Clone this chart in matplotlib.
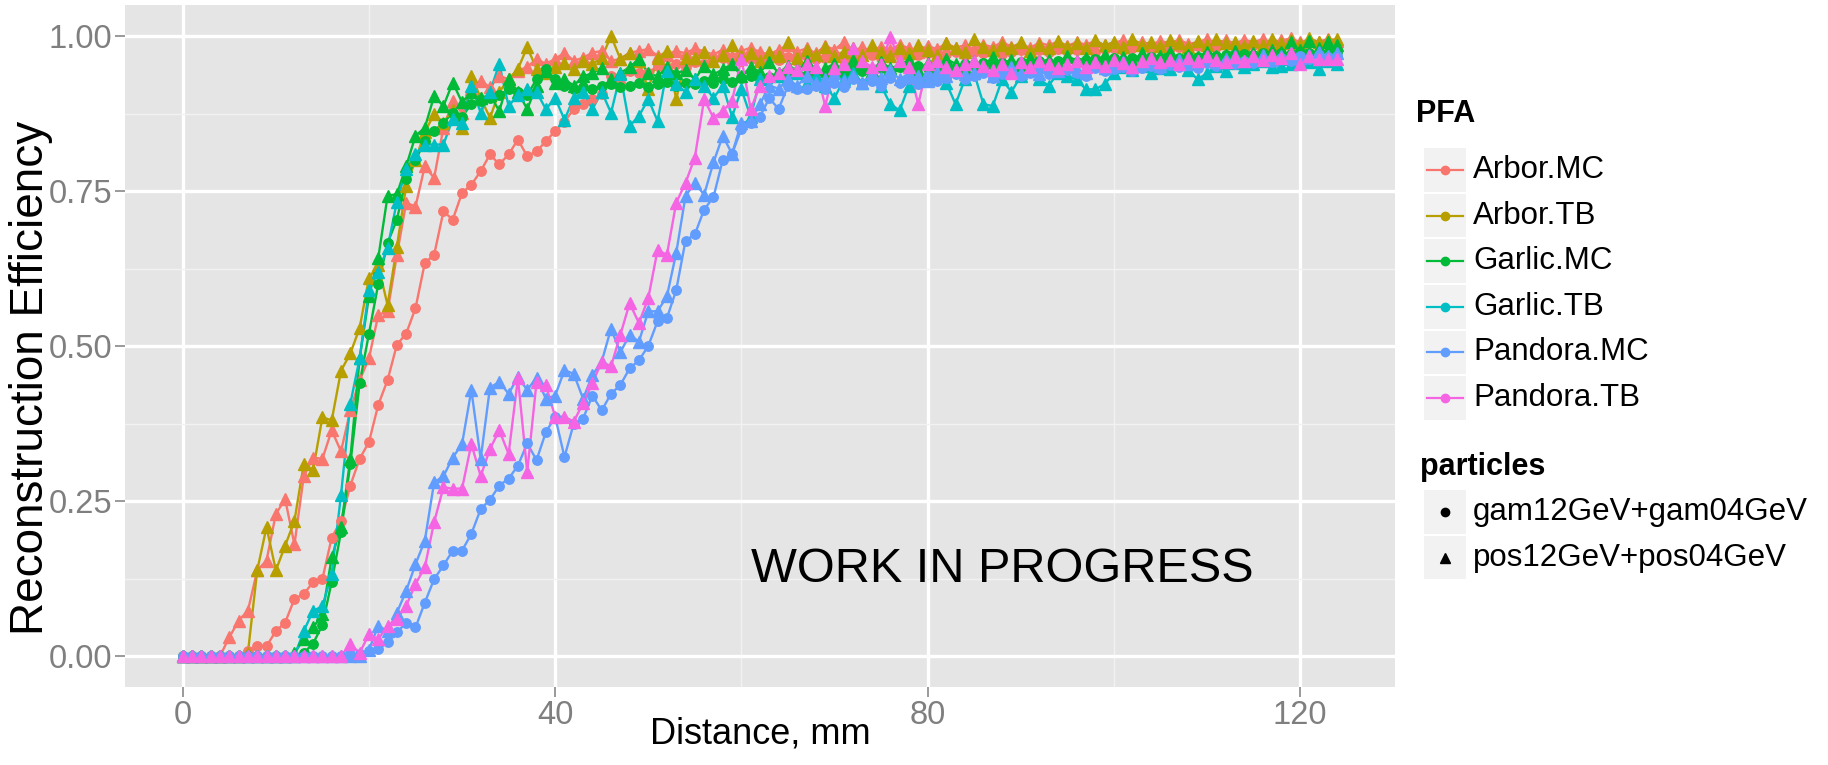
import numpy as np
import matplotlib
matplotlib.use("Agg")
import matplotlib.pyplot as plt
from matplotlib.patches import Rectangle
from matplotlib.ticker import FormatStrFormatter

plt.rcParams["font.family"] = ["Liberation Sans", "DejaVu Sans"]

# distance between the two showers, mm
distance = np.arange(0, 125)

arbor_mc_gam = [
    0, 0, 0, 0, 0, 0, 0, 0.008, 0.016, 0.016,
    0.04, 0.054, 0.092, 0.10, 0.119, 0.124, 0.191, 0.218, 0.275, 0.318,
    0.345, 0.405, 0.445, 0.502, 0.52, 0.561, 0.634, 0.647, 0.717, 0.704,
    0.747, 0.76, 0.782, 0.809, 0.793, 0.809, 0.833, 0.806, 0.814, 0.83,
    0.847, 0.862, 0.882, 0.89, 0.898, 0.906, 0.935, 0.925, 0.944, 0.941,
    0.94, 0.952, 0.948, 0.955, 0.95, 0.958, 0.955, 0.962, 0.965, 0.958,
    0.96, 0.963, 0.957, 0.965, 0.962, 0.966, 0.96, 0.968, 0.963, 0.965,
    0.97, 0.962, 0.968, 0.966, 0.97, 0.965, 0.972, 0.968, 0.966, 0.97,
    0.973, 0.968, 0.971, 0.975, 0.97, 0.974, 0.972, 0.976, 0.971, 0.975,
    0.978, 0.973, 0.977, 0.975, 0.979, 0.976, 0.978, 0.98, 0.975, 0.979,
    0.981, 0.977, 0.98, 0.982, 0.978, 0.982, 0.98, 0.983, 0.979, 0.984,
    0.981, 0.983, 0.985, 0.982, 0.984, 0.986, 0.983, 0.985, 0.987, 0.984,
    0.986, 0.988, 0.985, 0.987, 0.986,
]
arbor_mc_pos = [
    0, 0, 0, 0, 0, 0.03, 0.057, 0.073, 0.138, 0.154,
    0.229, 0.253, 0.18, 0.29, 0.32, 0.318, 0.364, 0.33, 0.396, 0.445,
    0.48, 0.55, 0.556, 0.647, 0.731, 0.725, 0.79, 0.771, 0.852, 0.895,
    0.876, 0.914, 0.928, 0.917, 0.936, 0.93, 0.944, 0.95, 0.963, 0.955,
    0.963, 0.973, 0.96, 0.965, 0.973, 0.976, 0.96, 0.963, 0.973, 0.976,
    0.979, 0.968, 0.97, 0.976, 0.972, 0.98, 0.975, 0.97, 0.978, 0.968,
    0.976, 0.981, 0.974, 0.97, 0.978, 0.985, 0.975, 0.98, 0.972, 0.984,
    0.978, 0.99, 0.976, 0.982, 0.975, 0.983, 0.978, 0.986, 0.98, 0.975,
    0.984, 0.979, 0.988, 0.981, 0.985, 0.979, 0.986, 0.982, 0.99, 0.983,
    0.987, 0.981, 0.989, 0.985, 0.991, 0.984, 0.99, 0.986, 0.992, 0.985,
    0.989, 0.993, 0.987, 0.991, 0.986, 0.992, 0.988, 0.994, 0.987, 0.99,
    0.995, 0.989, 0.993, 0.988, 0.994, 0.99, 0.995, 0.989, 0.993, 0.996,
    0.99, 0.994, 0.991, 0.995, 0.992,
]
arbor_tb_pos = [
    0, 0, 0, 0, 0, 0, 0, 0.005, 0.138, 0.208,
    0.138, 0.178, 0.218, 0.31, 0.30, 0.385, 0.38, 0.46, 0.488, 0.529,
    0.61, 0.63, 0.566, 0.66, 0.758, 0.80, 0.845, 0.874, 0.86, 0.88,
    0.852, 0.936, 0.90, 0.868, 0.91, 0.93, 0.947, 0.982, 0.947, 0.94,
    0.95, 0.957, 0.947, 0.96, 0.955, 0.965, 1.0, 0.963, 0.973, 0.96,
    0.914, 0.965, 0.976, 0.898, 0.965, 0.965, 0.975, 0.96, 0.97, 0.985,
    0.968, 0.972, 0.96, 0.975, 0.968, 0.99, 0.965, 0.978, 0.97, 0.983,
    0.968, 0.975, 0.98, 0.97, 0.985, 0.975, 0.968, 0.98, 0.972, 0.985,
    0.978, 0.97, 0.988, 0.98, 0.975, 0.995, 0.982, 0.978, 0.986, 0.98,
    0.99, 0.976, 0.985, 0.98, 0.992, 0.983, 0.988, 0.98, 0.993, 0.985,
    0.99, 0.982, 0.995, 0.986, 0.99, 0.984, 0.993, 0.988, 0.982, 0.992,
    0.986, 0.995, 0.988, 0.99, 0.984, 0.992, 0.986, 0.995, 0.989, 0.993,
    0.987, 0.996, 0.99, 0.993, 0.995,
]
garlic_mc_gam = [
    0, 0, 0, 0, 0, 0, 0, 0, 0, 0,
    0, 0, 0, 0.005, 0.02, 0.05, 0.12, 0.2, 0.31, 0.44,
    0.52, 0.6, 0.666, 0.704, 0.77, 0.80, 0.83, 0.847, 0.86, 0.876,
    0.87, 0.89, 0.895, 0.9, 0.905, 0.914, 0.91, 0.905, 0.93, 0.947,
    0.93, 0.92, 0.914, 0.918, 0.915, 0.92, 0.922, 0.918, 0.92, 0.925,
    0.918, 0.922, 0.926, 0.92, 0.924, 0.922, 0.928, 0.925, 0.93, 0.926,
    0.932, 0.935, 0.93, 0.934, 0.938, 0.935, 0.94, 0.937, 0.942, 0.938,
    0.944, 0.94, 0.946, 0.943, 0.945, 0.948, 0.944, 0.95, 0.946, 0.952,
    0.948, 0.95, 0.953, 0.949, 0.955, 0.952, 0.956, 0.953, 0.957, 0.955,
    0.958, 0.954, 0.96, 0.957, 0.959, 0.962, 0.958, 0.961, 0.963, 0.96,
    0.964, 0.962, 0.965, 0.961, 0.966, 0.964, 0.967, 0.965, 0.968, 0.966,
    0.969, 0.967, 0.97, 0.968, 0.971, 0.969, 0.972, 0.97, 0.973, 0.971,
    0.974, 0.972, 0.975, 0.973, 0.975,
]
garlic_mc_pos = [
    0, 0, 0, 0, 0, 0, 0, 0, 0, 0,
    0, 0, 0.005, 0.027, 0.046, 0.067, 0.159, 0.208, 0.318, 0.48,
    0.58, 0.642, 0.742, 0.745, 0.79, 0.839, 0.852, 0.903, 0.887, 0.925,
    0.893, 0.91, 0.9, 0.905, 0.879, 0.93, 0.91, 0.882, 0.92, 0.944,
    0.925, 0.93, 0.92, 0.935, 0.94, 0.949, 0.93, 0.94, 0.95, 0.963,
    0.94, 0.935, 0.95, 0.94, 0.945, 0.93, 0.952, 0.938, 0.946, 0.955,
    0.935, 0.95, 0.942, 0.958, 0.94, 0.952, 0.945, 0.96, 0.935, 0.948,
    0.955, 0.942, 0.962, 0.95, 0.944, 0.958, 0.948, 0.953, 0.962, 0.945,
    0.957, 0.95, 0.963, 0.955, 0.948, 0.96, 0.952, 0.966, 0.955, 0.962,
    0.95, 0.965, 0.958, 0.962, 0.955, 0.968, 0.96, 0.964, 0.958, 0.97,
    0.962, 0.966, 0.96, 0.972, 0.963, 0.967, 0.975, 0.962, 0.97, 0.966,
    0.974, 0.968, 0.97, 0.976, 0.965, 0.972, 0.968, 0.978, 0.975, 0.99,
    0.978, 0.992, 0.98, 0.99, 0.985,
]
garlic_tb_pos = [
    0, 0, 0, 0, 0, 0, 0, 0, 0, 0,
    0, 0, 0, 0.04, 0.073, 0.08, 0.132, 0.26, 0.407, 0.48,
    0.59, 0.62, 0.658, 0.733, 0.785, 0.81, 0.825, 0.825, 0.825, 0.866,
    0.86, 0.92, 0.876, 0.91, 0.955, 0.887, 0.905, 0.914, 0.91, 0.882,
    0.90, 0.865, 0.90, 0.91, 0.882, 0.91, 0.876, 0.938, 0.855, 0.871,
    0.898, 0.863, 0.944, 0.922, 0.91, 0.93, 0.92, 0.90, 0.92, 0.87,
    0.914, 0.87, 0.93, 0.92, 0.935, 0.93, 0.94, 0.925, 0.935, 0.92,
    0.90, 0.93, 0.94, 0.925, 0.935, 0.92, 0.89, 0.88, 0.92, 0.935,
    0.93, 0.94, 0.925, 0.89, 0.93, 0.94, 0.89, 0.887, 0.93, 0.91,
    0.935, 0.945, 0.93, 0.92, 0.94, 0.935, 0.93, 0.914, 0.914, 0.922,
    0.94, 0.95, 0.945, 0.952, 0.94, 0.948, 0.947, 0.955, 0.945, 0.93,
    0.94, 0.952, 0.944, 0.957, 0.95, 0.955, 0.96, 0.95, 0.952, 0.955,
    0.962, 0.958, 0.947, 0.96, 0.955,
]
pandora_mc_gam = [
    0, 0, 0, 0, 0, 0, 0, 0, 0, 0,
    0, 0, 0, 0, 0, 0, 0, 0, 0.003, 0.003,
    0.008, 0.011, 0.022, 0.038, 0.054, 0.046, 0.086, 0.124, 0.146, 0.17,
    0.17, 0.197, 0.237, 0.252, 0.275, 0.286, 0.307, 0.343, 0.316, 0.361,
    0.386, 0.321, 0.375, 0.383, 0.42, 0.396, 0.423, 0.437, 0.464, 0.477,
    0.50, 0.54, 0.545, 0.59, 0.67, 0.68, 0.72, 0.74, 0.80, 0.81,
    0.85, 0.86, 0.87, 0.90, 0.882, 0.92, 0.914, 0.914, 0.92, 0.915,
    0.925, 0.918, 0.93, 0.922, 0.928, 0.92, 0.932, 0.925, 0.93, 0.922,
    0.935, 0.928, 0.932, 0.938, 0.93, 0.935, 0.94, 0.932, 0.938, 0.942,
    0.936, 0.94, 0.945, 0.938, 0.942, 0.945, 0.94, 0.935, 0.948, 0.943,
    0.946, 0.95, 0.944, 0.948, 0.952, 0.947, 0.953, 0.95, 0.955, 0.948,
    0.956, 0.952, 0.958, 0.955, 0.96, 0.957, 0.962, 0.958, 0.965, 0.96,
    0.967, 0.963, 0.97, 0.966, 0.968,
]
pandora_mc_pos = [
    0, 0, 0, 0, 0, 0, 0, 0, 0, 0,
    0, 0, 0, 0, 0, 0, 0, 0, 0, 0,
    0.01, 0.049, 0.04, 0.07, 0.105, 0.148, 0.186, 0.28, 0.29, 0.32,
    0.342, 0.429, 0.318, 0.433, 0.442, 0.423, 0.45, 0.429, 0.449, 0.415,
    0.42, 0.461, 0.455, 0.415, 0.453, 0.475, 0.528, 0.49, 0.518, 0.507,
    0.556, 0.556, 0.58, 0.65, 0.742, 0.763, 0.744, 0.796, 0.839, 0.81,
    0.86, 0.863, 0.89, 0.92, 0.915, 0.93, 0.92, 0.935, 0.925, 0.93,
    0.94, 0.928, 0.935, 0.925, 0.94, 0.932, 0.945, 0.93, 0.94, 0.935,
    0.928, 0.942, 0.936, 0.945, 0.938, 0.94, 0.948, 0.935, 0.944, 0.95,
    0.94, 0.946, 0.938, 0.95, 0.944, 0.952, 0.945, 0.94, 0.955, 0.948,
    0.952, 0.958, 0.95, 0.955, 0.96, 0.952, 0.958, 0.962, 0.955, 0.96,
    0.965, 0.958, 0.963, 0.968, 0.96, 0.965, 0.97, 0.962, 0.968, 0.972,
    0.965, 0.97, 0.975, 0.968, 0.972,
]
pandora_tb_pos = [
    0, 0, 0, 0, 0, 0, 0, 0, 0, 0,
    0, 0, 0, 0, 0, 0, 0, 0, 0.019, 0.005,
    0.035, 0.027, 0.049, 0.06, 0.081, 0.116, 0.143, 0.216, 0.272, 0.27,
    0.27, 0.342, 0.29, 0.334, 0.364, 0.326, 0.448, 0.297, 0.442, 0.437,
    0.386, 0.386, 0.378, 0.408, 0.44, 0.475, 0.467, 0.518, 0.569, 0.537,
    0.577, 0.655, 0.647, 0.731, 0.763, 0.804, 0.898, 0.868, 0.879, 0.895,
    0.963, 0.882, 0.92, 0.936, 0.94, 0.95, 0.945, 0.955, 0.95, 0.887,
    0.948, 0.955, 0.98, 0.96, 0.95, 0.955, 0.998, 0.96, 0.95, 0.89,
    0.955, 0.96, 0.95, 0.945, 0.955, 0.96, 0.952, 0.945, 0.955, 0.94,
    0.958, 0.95, 0.96, 0.955, 0.948, 0.955, 0.96, 0.95, 0.958, 0.952,
    0.962, 0.956, 0.95, 0.96, 0.965, 0.958, 0.962, 0.955, 0.965, 0.96,
    0.968, 0.962, 0.958, 0.966, 0.96, 0.968, 0.962, 0.97, 0.965, 0.972,
    0.955, 0.968, 0.963, 0.963, 0.963,
]

pfa_names = ["Arbor.MC", "Arbor.TB", "Garlic.MC", "Garlic.TB", "Pandora.MC", "Pandora.TB"]
pfa_colors = ["#F8766D", "#B79F00", "#00BA38", "#00BFC4", "#619CFF", "#F564E3"]
particle_names = ["gam12GeV+gam04GeV", "pos12GeV+pos04GeV"]
particle_markers = ["o", "^"]

# (PFA, particle index, efficiency)
series = [
    ("Arbor.MC", 0, arbor_mc_gam),
    ("Arbor.MC", 1, arbor_mc_pos),
    ("Arbor.TB", 1, arbor_tb_pos),
    ("Garlic.MC", 0, garlic_mc_gam),
    ("Garlic.MC", 1, garlic_mc_pos),
    ("Garlic.TB", 1, garlic_tb_pos),
    ("Pandora.MC", 0, pandora_mc_gam),
    ("Pandora.MC", 1, pandora_mc_pos),
    ("Pandora.TB", 1, pandora_tb_pos),
]

W, H = 1828, 765
fig = plt.figure(figsize=(W / 100, H / 100), dpi=100)
fig.patch.set_facecolor("white")

# panel box in pixels: left 125, right 1395, top 5, bottom 687
ax = fig.add_axes([125 / W, 1 - 687 / H, 1270 / W, 682 / H])
ax.set_facecolor("#E5E5E5")
for s in ax.spines.values():
    s.set_visible(False)

color_of = dict(zip(pfa_names, pfa_colors))
for pfa, p, eff in series:
    ax.plot(distance, eff, color=color_of[pfa], lw=1.7, zorder=2)
for pfa, p, eff in series:
    ms = 6.8 if p == 0 else 8.3
    ax.plot(distance, eff, ls="none", marker=particle_markers[p], ms=ms,
            color=color_of[pfa], mec=color_of[pfa], zorder=3)

ax.set_xlim(-6.2, 130.2)
ax.set_ylim(-0.05, 1.05)
ax.set_xticks([0, 40, 80, 120])
ax.set_xticks([20, 60, 100], minor=True)
ax.set_yticks([0, 0.25, 0.5, 0.75, 1.0])
ax.set_yticks([0.125, 0.375, 0.625, 0.875], minor=True)
ax.yaxis.set_major_formatter(FormatStrFormatter("%.2f"))
ax.grid(which="major", color="white", lw=2.4)
ax.grid(which="minor", color="#F2F2F2", lw=1.0)
ax.set_axisbelow(True)
ax.tick_params(which="major", length=7, width=1.1, color="#7F7F7F",
               labelcolor="#7F7F7F", labelsize=23.5, pad=2)
ax.tick_params(which="minor", length=0)

ax.text(61, 0.139, "WORK IN PROGRESS", fontsize=35, ha="left", va="center",
        color="black", zorder=4)

fig.text(760 / W, 1 - 734 / H, "Distance, mm", fontsize=26, ha="center",
         va="center", color="black")
fig.text(31 / W, 1 - 378 / H, "Reconstruction Efficiency", fontsize=33,
         ha="center", va="center", rotation=90, color="black")

# legends, drawn in pixel space
ov = fig.add_axes([0, 0, 1, 1], facecolor="none")
ov.set_xlim(0, W)
ov.set_ylim(H, 0)
ov.axis("off")

key_x0, key_w, key_h = 1423, 44, 45.6
ov.text(1416, 114, "PFA", fontsize=22, fontweight="bold", va="center")
for i, (name, col) in enumerate(zip(pfa_names, pfa_colors)):
    cy = 170 + i * key_h
    ov.add_patch(Rectangle((key_x0, cy - key_h / 2), key_w, key_h,
                           facecolor="#F2F2F2", edgecolor="white", lw=1.5))
    ov.plot([key_x0 + 4, key_x0 + key_w - 4], [cy, cy], color=col, lw=1.6)
    ov.plot([key_x0 + key_w / 2], [cy], marker="o", ms=6, color=col)
    ov.text(1473, cy, name, fontsize=22.5, va="center")

ov.text(1420, 467, "particles", fontsize=22, fontweight="bold", va="center")
for i, (name, mk) in enumerate(zip(particle_names, particle_markers)):
    cy = 512 + i * key_h
    ov.add_patch(Rectangle((key_x0, cy - key_h / 2), key_w, key_h,
                           facecolor="#F2F2F2", edgecolor="white", lw=1.5))
    ov.plot([key_x0 + key_w / 2], [cy], marker=mk, ms=6 if mk == "o" else 7,
            color="black")
    ov.text(1473, cy, name, fontsize=22.5, va="center")

fig.savefig("out.png", dpi=100, facecolor="white")
